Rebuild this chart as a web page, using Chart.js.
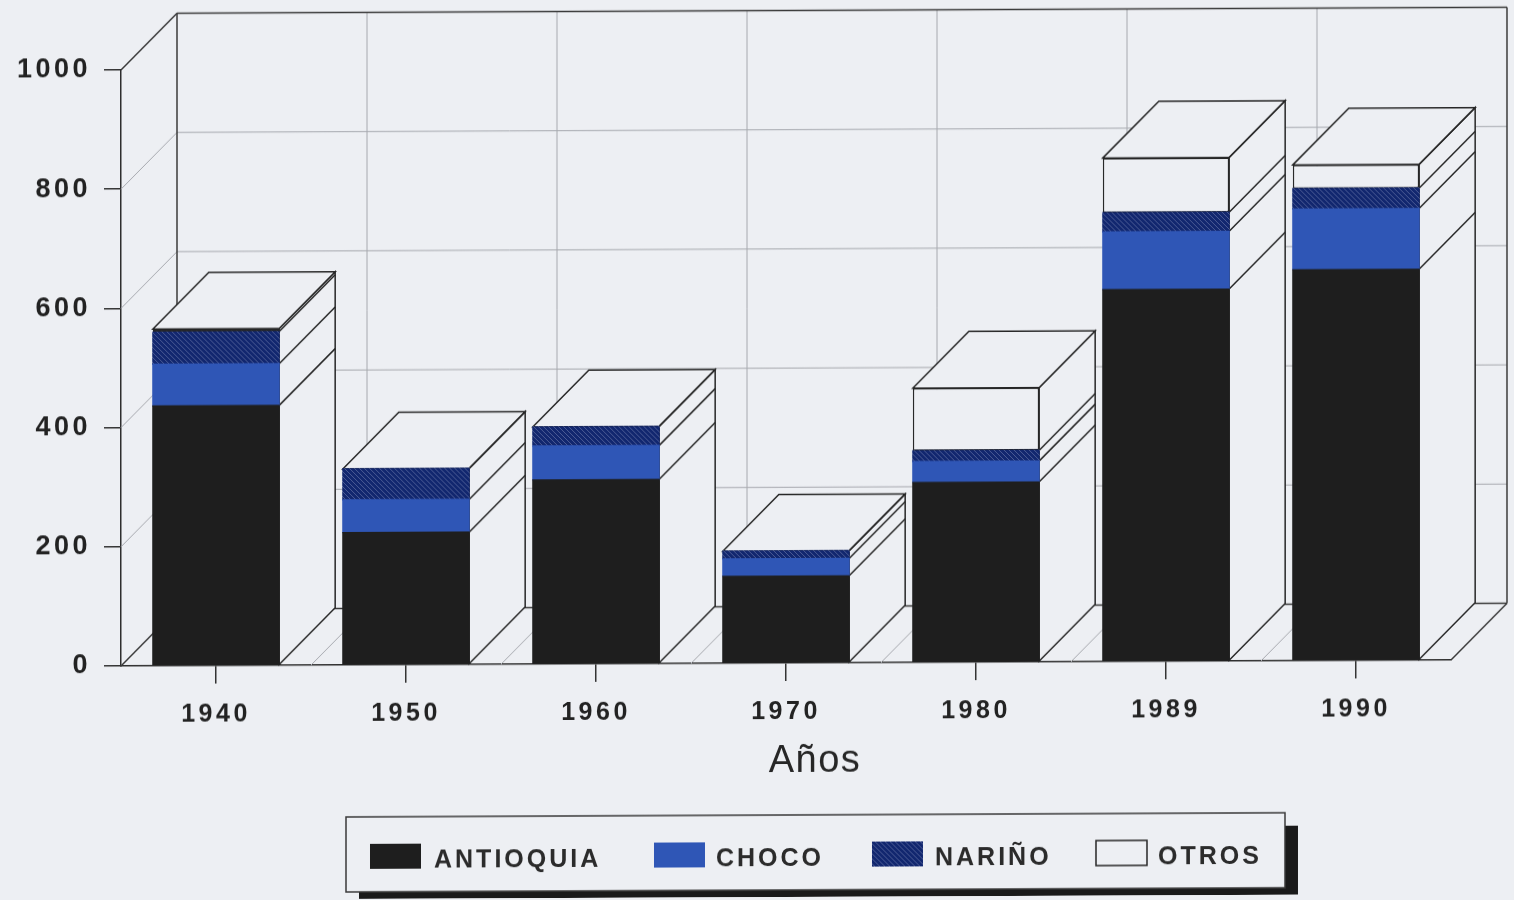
<!DOCTYPE html>
<html>
<head>
<meta charset="utf-8">
<title>Años</title>
<script src="https://cdn.jsdelivr.net/npm/chart.js@4"></script>
<style>
    html, body { margin: 0; height: 100%; overflow: hidden; background: #edeff3; }
    /* the original is a slightly crooked scan */
    #chart { display: block; transform: skewY(-0.258deg); transform-origin: 120px 666px; }
</style>
</head>
<body>
<canvas id="chart" width="1514" height="900"></canvas>
<script>
const years = ["1940", "1950", "1960", "1970", "1980", "1989", "1990"];
const antioquia = [436, 222, 309, 146, 302, 624, 656];
const choco = [70, 55, 57, 29, 35, 97, 102];
const narino = [54, 52, 32, 13, 18, 32, 34];
const otros = [5, 0, 0, 0, 105, 92, 40];
const yTicks = [0, 200, 400, 600, 800, 1000];

const paper = "#edeff3";
const ink = "#262626";
const depthX = 56;
const depthY = -56.5;

// Hatch for the Nariño series
function hatchPattern() {
    const c = document.createElement("canvas");
    c.width = 5;
    c.height = 5;
    const g = c.getContext("2d");
    g.fillStyle = "#12276f";
    g.fillRect(0, 0, 5, 5);
    g.strokeStyle = "#4a5a94";
    g.lineWidth = 1;
    g.beginPath();
    g.moveTo(-1, -1);
    g.lineTo(6, 6);
    g.moveTo(-1, 4);
    g.lineTo(1, 6);
    g.moveTo(4, -1);
    g.lineTo(6, 1);
    g.stroke();
    return g.createPattern(c, "repeat");
}

function line(ctx, x1, y1, x2, y2) {
    ctx.beginPath();
    ctx.moveTo(x1, y1);
    ctx.lineTo(x2, y2);
    ctx.stroke();
}

function poly(ctx, points) {
    ctx.beginPath();
    points.forEach((p, i) => i ? ctx.lineTo(p[0], p[1]) : ctx.moveTo(p[0], p[1]));
    ctx.closePath();
    ctx.fill();
    ctx.stroke();
}

// Back wall, side wall, floor and the depth faces of the bars
const depthPlugin = {
    id: "depth",
    beforeDraw(chart) {
        chart.ctx.letterSpacing = "3.5px";
    },
    beforeDatasetsDraw(chart) {
        const ctx = chart.ctx;
        const xs = chart.scales.x;
        const ys = chart.scales.y;
        const area = chart.chartArea;
        const step = (area.right - area.left) / years.length;
        const topY = ys.getPixelForValue(1000);
        const zeroY = ys.getPixelForValue(0);
        ctx.save();

        // thin lines on the walls and floor
        ctx.strokeStyle = "#a6a8ae";
        ctx.lineWidth = 1;
        yTicks.forEach(v => {
            const y = ys.getPixelForValue(v);
            line(ctx, area.left, y, area.left + depthX, y + depthY);
            line(ctx, area.left + depthX, y + depthY, area.right + depthX, y + depthY);
        });
        years.forEach((label, i) => {
            const x = xs.getPixelForValue(i) - step / 2;
            if (i > 0) {
                line(ctx, x + depthX, topY + depthY, x + depthX, zeroY + depthY);
                line(ctx, x, zeroY, x + depthX, zeroY + depthY);
            }
        });

        // wall outlines
        ctx.strokeStyle = "#3a3a3a";
        ctx.lineWidth = 1.5;
        line(ctx, area.left, topY, area.left + depthX, topY + depthY);
        line(ctx, area.left + depthX, topY + depthY, area.right + depthX, topY + depthY);
        line(ctx, area.left + depthX, topY + depthY, area.left + depthX, zeroY + depthY);
        line(ctx, area.right + depthX, topY + depthY, area.right + depthX, zeroY + depthY);
        line(ctx, area.left, zeroY, area.left + depthX, zeroY + depthY);
        line(ctx, area.right, zeroY, area.right + depthX, zeroY + depthY);
        line(ctx, area.left + depthX, zeroY + depthY, area.right + depthX, zeroY + depthY);

        // depth faces
        const metas = chart.data.datasets.map((d, i) => chart.getDatasetMeta(i));
        ctx.fillStyle = paper;
        ctx.strokeStyle = ink;
        years.forEach((label, i) => {
            const bars = metas.map(m => m.data[i]);
            const first = bars[0];
            const last = bars[bars.length - 1];
            const left = first.x - first.width / 2;
            const right = first.x + first.width / 2;
            const base = first.base;
            const top = last.y;
            poly(ctx, [[right, base], [right + depthX, base + depthY], [right + depthX, top + depthY], [right, top]]);
            poly(ctx, [[left, top], [left + depthX, top + depthY], [right + depthX, top + depthY], [right, top]]);
            bars.slice(0, -1).forEach(b => line(ctx, right, b.y, right + depthX, b.y + depthY));
        });
        ctx.restore();
    },
    afterDraw(chart) {
        const ctx = chart.ctx;
        ctx.save();
        ctx.fillStyle = ink;

        // axis title
        ctx.font = "38px 'Liberation Sans'";
        ctx.letterSpacing = "1.5px";
        ctx.textAlign = "center";
        ctx.textBaseline = "alphabetic";
        ctx.fillText("Años", 815, 775);

        // legend box with its shadow
        ctx.fillStyle = "#1a1a1a";
        ctx.fillRect(359, 831, 939, 74);
        ctx.fillStyle = paper;
        ctx.strokeStyle = "#3a3a3a";
        ctx.lineWidth = 1.5;
        ctx.fillRect(346, 818, 939, 75);
        ctx.strokeRect(346, 818, 939, 75);

        const swatchX = [370, 654, 872, 1096];
        const textX = [434, 716, 935, 1158];
        ctx.font = "bold 25px 'Liberation Sans'";
        ctx.textAlign = "left";
        ctx.letterSpacing = "3px";
        chart.data.datasets.forEach((d, i) => {
            ctx.fillStyle = d.backgroundColor;
            ctx.fillRect(swatchX[i], 845, 51, 25);
            if (i === 3) {
                ctx.strokeStyle = ink;
                ctx.strokeRect(swatchX[i], 845, 51, 25);
            }
            ctx.fillStyle = "#2b2b2b";
            ctx.fillText(d.label, textX[i], 869);
        });
        ctx.restore();
    }
};

new Chart(document.getElementById("chart").getContext("2d"), {
    type: "bar",
    data: {
        labels: years,
        datasets: [
            { label: "ANTIOQUIA", data: antioquia, backgroundColor: "#1e1e1e", borderWidth: 0, inflateAmount: 0.6 },
            { label: "CHOCO", data: choco, backgroundColor: "#2f56b6", borderWidth: 0, inflateAmount: 0.6 },
            { label: "NARIÑO", data: narino, backgroundColor: hatchPattern(), borderWidth: 0, inflateAmount: 0.6 },
            { label: "OTROS", data: otros, backgroundColor: paper, borderColor: ink, borderWidth: 1.5 }
        ]
    },
    options: {
        responsive: false,
        animation: false,
        events: [],
        layout: { padding: { top: 70, right: 63, bottom: 0, left: 0 } },
        datasets: { bar: { barPercentage: 0.665, categoryPercentage: 1, borderSkipped: false } },
        plugins: {
            legend: { display: false },
            tooltip: { enabled: false }
        },
        scales: {
            x: {
                stacked: true,
                afterFit: s => { s.height = 234; },
                border: { color: "#2e2e2e", width: 1.5 },
                grid: { offset: false, drawOnChartArea: false, color: "#333", lineWidth: 1.5, tickLength: 18 },
                ticks: {
                    autoSkip: false,
                    maxRotation: 0,
                    padding: 16,
                    color: "#222",
                    font: { family: "'Liberation Sans'", size: 25, weight: "bold" }
                }
            },
            y: {
                stacked: true,
                min: 0,
                max: 1000,
                afterFit: s => { s.width = 121; },
                afterBuildTicks: s => { s.ticks = yTicks.map(v => ({ value: v })); },
                border: { color: "#2e2e2e", width: 1.5 },
                grid: { drawOnChartArea: false, color: "#333", lineWidth: 1.5, tickLength: 17 },
                ticks: {
                    padding: 13,
                    color: "#222",
                    font: { family: "'Liberation Sans'", size: 27, weight: "bold" },
                    callback: v => String(v)
                }
            }
        }
    },
    plugins: [depthPlugin]
});
</script>
</body>
</html>
